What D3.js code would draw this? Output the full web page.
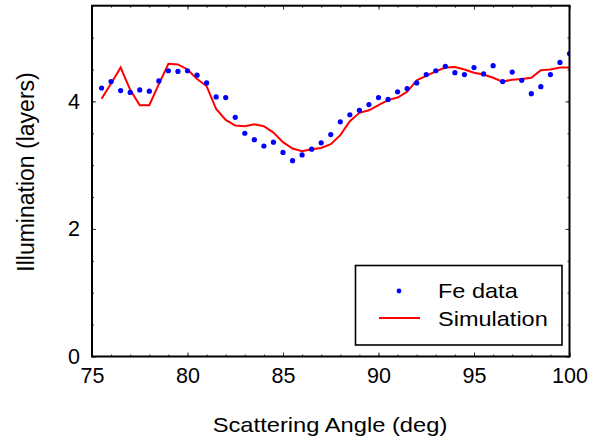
<!DOCTYPE html>
<html>
<head>
<meta charset="utf-8">
<script src="https://cdn.jsdelivr.net/npm/d3@7/dist/d3.min.js"></script>
<style>
html,body{margin:0;padding:0;background:#fff;}
text{font-family:"Liberation Sans",Arial,Helvetica,sans-serif;fill:#000;}
</style>
</head>
<body>
<svg id="chart" width="591" height="442"></svg>
<script>
const angles = [75.5,76,76.5,77,77.5,78,78.5,79,79.5,80,80.5,81,81.5,82,82.5,83,83.5,84,84.5,85,85.5,86,86.5,87,87.5,88,88.5,89,89.5,90,90.5,91,91.5,92,92.5,93,93.5,94,94.5,95,95.5,96,96.5,97,97.5,98,98.5,99,99.5,100];
const feData = [4.21,4.31,4.17,4.14,4.18,4.16,4.32,4.48,4.47,4.48,4.41,4.29,4.07,4.06,3.75,3.50,3.40,3.30,3.36,3.20,3.07,3.16,3.25,3.35,3.48,3.68,3.79,3.86,3.95,4.06,4.03,4.15,4.20,4.29,4.42,4.48,4.55,4.45,4.42,4.53,4.43,4.56,4.31,4.46,4.33,4.12,4.23,4.42,4.61,4.75];
const simulation = [4.04,4.28,4.53,4.18,3.94,3.94,4.27,4.59,4.58,4.50,4.35,4.24,3.88,3.71,3.62,3.61,3.64,3.61,3.51,3.36,3.26,3.22,3.25,3.27,3.33,3.47,3.69,3.82,3.86,3.94,4.02,4.06,4.15,4.33,4.40,4.47,4.53,4.54,4.50,4.45,4.42,4.37,4.31,4.34,4.35,4.37,4.49,4.50,4.53,4.53];
const xMajorTicks = [75,80,85,90,95,100];
const yMajorTicks = [0,2,4];
const xMinorTicks = d3.range(75,100.01,1);
const yMinorTicks = d3.range(0,5.51,0.5);
const legendLabels = ["Fe data","Simulation"];
const xTitle = "Scattering Angle (deg)";
const yTitle = "Illumination (layers)";

const svg = d3.select("#chart");
const L = 92, R = 569.5, T = 5.7, B = 356.5;
const x = d3.scaleLinear().domain([75,100]).range([L,R]);
const y = d3.scaleLinear().domain([0,5.5]).range([B,T]);
const FS = 21;
const SX = 1.12;

svg.append("defs").append("clipPath").attr("id","clip")
  .append("rect").attr("x",L).attr("y",T).attr("width",R-L).attr("height",B-T);

function tickAxis(axisGen, tx, ty, vals, size){
  svg.append("g").attr("transform",`translate(${tx},${ty})`)
    .call(axisGen.tickValues(vals).tickSize(size).tickFormat(""))
    .call(g=>{g.select(".domain").remove(); g.selectAll("line").attr("stroke","#333").attr("stroke-width",1);});
}
tickAxis(d3.axisTop(x), 0, B, xMinorTicks, 2);
tickAxis(d3.axisTop(x), 0, B, xMajorTicks, 4);
tickAxis(d3.axisBottom(x), 0, T, xMinorTicks, 2);
tickAxis(d3.axisBottom(x), 0, T, xMajorTicks, 4);
tickAxis(d3.axisRight(y), L, 0, yMinorTicks, 2);
tickAxis(d3.axisRight(y), L, 0, yMajorTicks, 4);
tickAxis(d3.axisLeft(y), R, 0, yMinorTicks, 2);
tickAxis(d3.axisLeft(y), R, 0, yMajorTicks, 4);

const xAx = svg.append("g").attr("transform",`translate(0,${B})`)
  .call(d3.axisBottom(x).tickValues(xMajorTicks).tickSize(0).tickPadding(11).tickFormat(d3.format("d")));
xAx.select(".domain").remove();
xAx.selectAll("text").attr("font-size",21.5).attr("font-family","Liberation Sans, Arial, sans-serif").attr("fill","#000");
const yAx = svg.append("g").attr("transform",`translate(${L},0)`)
  .call(d3.axisLeft(y).tickValues(yMajorTicks).tickSize(0).tickPadding(12).tickFormat(d3.format("d")));
yAx.select(".domain").remove();
yAx.selectAll("text").attr("font-size",21.5).attr("font-family","Liberation Sans, Arial, sans-serif").attr("fill","#000");

const g = svg.append("g").attr("clip-path","url(#clip)");
const pts = angles.map((a,i)=>({a, fe:feData[i], sim:simulation[i]}));
g.append("path").datum(pts)
  .attr("fill","none").attr("stroke","#ff0000").attr("stroke-width",2)
  .attr("d", d3.line().x(d=>x(d.a)).y(d=>y(d.sim)));
g.selectAll("circle.fe").data(pts).join("circle").attr("class","fe")
  .attr("cx",d=>x(d.a)).attr("cy",d=>y(d.fe)).attr("r",2.6).attr("fill","#0000ff");

svg.append("rect").attr("x",L).attr("y",T).attr("width",R-L).attr("height",B-T)
  .attr("fill","none").attr("stroke","#000").attr("stroke-width",2);

const lg = svg.append("g");
lg.append("rect").attr("x",355.5).attr("y",265.5).attr("width",206.5).attr("height",79.5)
  .attr("fill","#fff").attr("stroke","#000").attr("stroke-width",1.6);
lg.append("circle").attr("cx",399).attr("cy",291).attr("r",2.4).attr("fill","#0000ff");
lg.append("line").attr("x1",379).attr("x2",420).attr("y1",318).attr("y2",318).attr("stroke","#ff0000").attr("stroke-width",2);
lg.selectAll("text.lab").data(legendLabels).join("text").attr("class","lab")
  .attr("transform",(d,i)=>`translate(438,${298+i*28}) scale(${SX},1)`)
  .attr("font-size",FS).text(d=>d);

svg.append("text").attr("transform",`translate(330,432) scale(1.13,1)`).attr("text-anchor","middle").attr("font-size",FS).text(xTitle);
svg.append("text").attr("transform","translate(34,172) rotate(-90)").attr("text-anchor","middle").attr("font-size",23).text(yTitle);
</script>
</body>
</html>
